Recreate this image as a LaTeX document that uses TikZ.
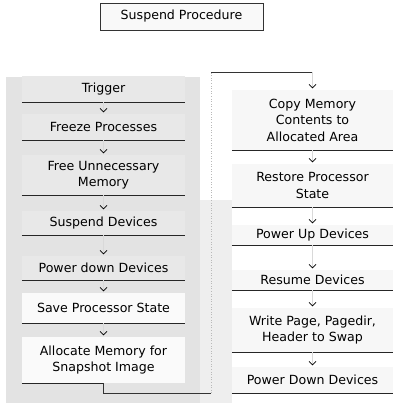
\documentclass[tikz,border=0pt]{standalone}
\usepackage{fontspec}
\setmainfont{DejaVu Sans}
\usetikzlibrary{arrows.meta}
\tikzset{
  stepbox/.style={align=center, inner xsep=2pt, inner ysep=0pt,
    font=\fontsize{12.6}{16.5}\selectfont},
  leftbox/.style={stepbox, fill=gray!18, minimum width=163pt},
  lightbox/.style={stepbox, fill=gray!4, minimum width=163pt},
  rightbox/.style={stepbox, fill=gray!6, minimum width=161pt},
  titlebox/.style={stepbox, draw=black!80, line width=0.8pt, fill=gray!5,
    minimum width=163pt, minimum height=27pt},
  rulestyle/.style={line width=1.1pt, black!85},
  linkline/.style={line width=0.8pt, black!80},
  faintline/.style={gray!55, dotted, line width=0.6pt},
  flow/.style={gray!30, line width=0.3pt, shorten >=1.5pt,
    -{Straight Barb[color=black, length=3.5pt, width=7pt, line width=0.7pt]}},
}
\begin{document}
\begin{tikzpicture}[x=1pt,y=-1pt]
\useasboundingbox (0,0) rectangle (398,403);
\fill[white] (0,0) rectangle (398,403);
% stippled background areas
\fill[gray!22] (6,77) rectangle (200,403);
\fill[gray!13] (200,200) rectangle (232,403);

% title
\node[titlebox] (title) at (181.5,16.5) {Suspend Procedure};

% left column
\node[leftbox, minimum height=26pt] (trig)   at (103.5,89)  {Trigger};
\node[leftbox, minimum height=26pt] (freeze) at (103.5,127) {Freeze Processes};
\node[leftbox, minimum height=40pt] (free)   at (103.5,175) {Free Unnecessary\\Memory};
\node[leftbox, minimum height=24pt] (susp)   at (103.5,223) {Suspend Devices};
\node[leftbox, minimum height=24pt] (pdown)  at (103.5,268) {Power down Devices};
\node[lightbox, minimum height=30pt] (save)  at (103.5,308) {Save Processor State};
\node[lightbox, minimum height=46pt] (alloc) at (103.5,360) {Allocate Memory for\\Snapshot Image};

% right column
\node[rightbox, minimum height=60pt] (copy)    at (312.5,120)   {Copy Memory\\Contents to\\Allocated Area};
\node[rightbox, minimum height=43pt] (restore) at (312.5,185.5) {Restore Processor\\State};
\node[rightbox, minimum height=20pt] (pup)     at (312.5,235)   {Power Up Devices};
\node[rightbox, minimum height=20pt] (resume)  at (312.5,280)   {Resume Devices};
\node[rightbox, minimum height=44pt] (write)   at (312.5,330)   {Write Page, Pagedir,\\Header to Swap};
\node[rightbox, minimum height=26pt] (pdd)     at (312.5,380)   {Power Down Devices};

% bottom rules of the boxes
\foreach \n in {trig,freeze,free,susp,pdown,save,copy,restore,pup,resume,write,pdd}
  \draw[rulestyle] (\n.south west) -- (\n.south east);
\draw[rulestyle] (alloc.south west) -- (alloc.south);

% flow arrows
\draw[flow] (trig.south) -- (freeze.north);
\draw[flow] (freeze.south) -- (free.north);
\draw[flow] (free.south) -- (susp.north);
\draw[flow] (susp.south) -- (pdown.north);
\draw[flow] (pdown.south) -- (save.north);
\draw[flow] (save.south) -- (alloc.north);

\coordinate (lb) at (211,393);
\coordinate (lt) at (211,72);
\coordinate (rt) at (312.5,72);
\draw[linkline] (alloc.south) |- (lb);
\draw[faintline] (lb) -- (lt);
\draw[linkline] (lt) -- (rt);
\draw[flow] (rt) -- (copy.north);

\draw[flow] (copy.south) -- (restore.north);
\draw[flow] (restore.south) -- (pup.north);
\draw[flow] (pup.south) -- (resume.north);
\draw[flow] (resume.south) -- (write.north);
\draw[flow] (write.south) -- (pdd.north);
\end{tikzpicture}
\end{document}
